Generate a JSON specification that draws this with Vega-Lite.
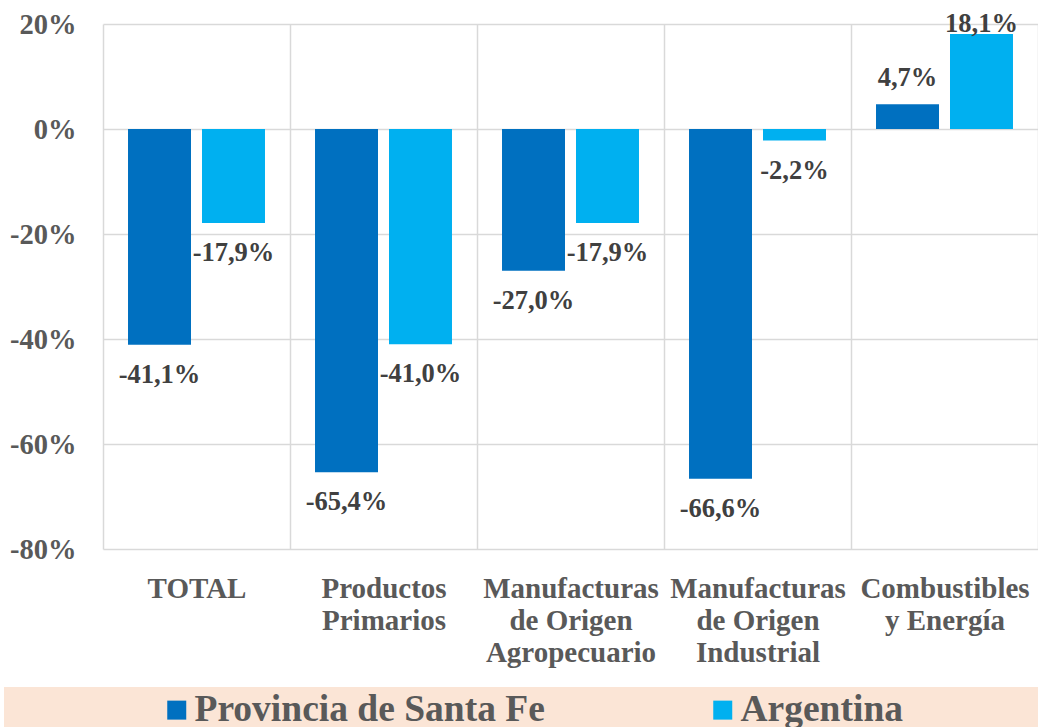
{
  "$schema": "https://vega.github.io/schema/vega-lite/v6.json",
  "autosize": "none",
  "width": 935,
  "height": 525,
  "padding": {"left": 103, "top": 24, "right": 0, "bottom": 178},
  "background": "white",
  "config": {
    "view": {"stroke": null},
    "font": "Times New Roman, Liberation Serif, serif"
  },
  "data": {
    "values": [
      {"cat": "TOTAL", "serie": "Provincia de Santa Fe", "v": -41.1},
      {"cat": "TOTAL", "serie": "Argentina", "v": -17.9},
      {"cat": "Productos Primarios", "serie": "Provincia de Santa Fe", "v": -65.4},
      {"cat": "Productos Primarios", "serie": "Argentina", "v": -41.0},
      {"cat": "Manufacturas de Origen Agropecuario", "serie": "Provincia de Santa Fe", "v": -27.0},
      {"cat": "Manufacturas de Origen Agropecuario", "serie": "Argentina", "v": -17.9},
      {"cat": "Manufacturas de Origen Industrial", "serie": "Provincia de Santa Fe", "v": -66.6},
      {"cat": "Manufacturas de Origen Industrial", "serie": "Argentina", "v": -2.2},
      {"cat": "Combustibles y Energía", "serie": "Provincia de Santa Fe", "v": 4.7},
      {"cat": "Combustibles y Energía", "serie": "Argentina", "v": 18.1}
    ]
  },
  "encoding": {
    "x": {
      "field": "cat",
      "type": "nominal",
      "sort": null,
      "title": null,
      "scale": {"paddingInner": 0, "paddingOuter": 0},
      "axis": {
        "orient": "bottom",
        "grid": true,
        "tickBand": "extent",
        "gridColor": "#D9D9D9",
        "gridWidth": 1.5,
        "domain": false,
        "ticks": false,
        "labelAngle": 0,
        "labelPadding": 25,
        "labelBaseline": "top",
        "labelLineHeight": 32,
        "labelFont": "Times New Roman, Liberation Serif, serif",
        "labelFontSize": 29,
        "labelFontWeight": "bold",
        "labelColor": "#595959",
        "labelLimit": 0,
        "labelExpr": "datum.label == 'Productos Primarios' ? ['Productos','Primarios'] : datum.label == 'Manufacturas de Origen Agropecuario' ? ['Manufacturas','de Origen','Agropecuario'] : datum.label == 'Manufacturas de Origen Industrial' ? ['Manufacturas','de Origen','Industrial'] : datum.label == 'Combustibles y Energía' ? ['Combustibles','y Energía'] : datum.label"
      }
    },
    "xOffset": {
      "field": "serie",
      "type": "nominal",
      "sort": ["Provincia de Santa Fe", "Argentina"],
      "scale": {"domain": ["Provincia de Santa Fe", "Argentina"], "paddingInner": 0.1486, "paddingOuter": 0.338}
    }
  },
  "layer": [
    {
      "mark": {"type": "bar"},
      "encoding": {
        "y": {
          "field": "v",
          "type": "quantitative",
          "title": null,
          "scale": {"domain": [-80, 20], "nice": false, "zero": true},
          "axis": {
            "values": [-80, -60, -40, -20, 0, 20],
            "grid": true,
            "gridColor": "#D9D9D9",
            "gridWidth": 1.5,
            "domain": false,
            "ticks": false,
            "labelPadding": 27,
            "labelFont": "Times New Roman, Liberation Serif, serif",
            "labelFontSize": 28.5,
            "labelFontWeight": "bold",
            "labelColor": "#595959",
            "labelExpr": "datum.value + '%'"
          }
        },
        "color": {
          "field": "serie",
          "type": "nominal",
          "scale": {"domain": ["Provincia de Santa Fe", "Argentina", "pad"], "range": ["#0070C0", "#00B0F0", "#FBE5D6"]},
          "legend": {
            "orient": "none",
            "legendX": -99,
            "legendY": 663,
            "direction": "horizontal",
            "fillColor": "#FBE5D6",
            "padding": 4,
            "title": "_______________",
            "titleColor": "#FBE5D6",
            "titleOrient": "left",
            "titleFontSize": 20,
            "titlePadding": 0,
            "titleLimit": 0,
            "symbolType": "square",
            "symbolSize": 361,
            "symbolStrokeWidth": 0,
            "symbolOpacity": 1,
            "labelOffset": -1,
            "labelFont": "Times New Roman, Liberation Serif, serif",
            "labelFontSize": 37.5,
            "labelFontWeight": "bold",
            "labelColor": "#595959",
            "labelLimit": 0,
            "columnPadding": 159,
            "encode": {
              "labels": {
                "update": {
                  "fill": {"signal": "datum.value === 'pad' ? '#FBE5D6' : '#595959'"}
                }
              }
            }
          }
        }
      }
    },
    {
      "transform": [
        {"filter": "datum.v < 0"},
        {"calculate": "'-' + replace(format(abs(datum.v), '.1f'), '.', ',') + '%'", "as": "lbl"}
      ],
      "mark": {"type": "text", "baseline": "alphabetic", "align": "center", "dy": 38, "font": "Times New Roman, Liberation Serif, serif", "fontSize": 26.5, "fontWeight": "bold", "color": "#404040"},
      "encoding": {
        "y": {"field": "v", "type": "quantitative"},
        "text": {"field": "lbl", "type": "nominal"}
      }
    },
    {
      "transform": [
        {"filter": "datum.v > 0"},
        {"calculate": "min(datum.v, 15)", "as": "ly"},
        {"calculate": "replace(format(datum.v, '.1f'), '.', ',') + '%'", "as": "lbl"}
      ],
      "mark": {"type": "text", "baseline": "alphabetic", "align": "center", "dy": -18, "font": "Times New Roman, Liberation Serif, serif", "fontSize": 26.5, "fontWeight": "bold", "color": "#404040"},
      "encoding": {
        "y": {"field": "ly", "type": "quantitative"},
        "text": {"field": "lbl", "type": "nominal"}
      }
    }
  ]
}
